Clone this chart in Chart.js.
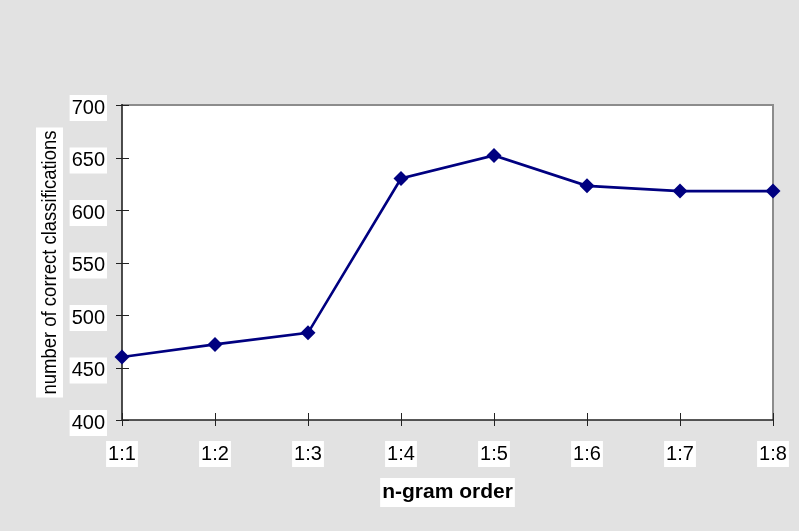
<!DOCTYPE html>
<html>
<head>
<meta charset="utf-8">
<script src="https://cdn.jsdelivr.net/npm/chart.js@4"></script>
<style>
  html, body { margin: 0; padding: 0; background: #e2e2e2; }
  #wrap { width: 799px; height: 531px; }
</style>
</head>
<body>
<div id="wrap"><canvas id="c" width="799" height="531"></canvas></div>
<script>
// n-gram order vs. number of correct classifications
const categories = ['1:1', '1:2', '1:3', '1:4', '1:5', '1:6', '1:7', '1:8'];
const correctClassifications = [460, 472, 483, 630, 652, 623, 618, 618];
const yTicks = [400, 450, 500, 550, 600, 650, 700];
const xTitle = 'n-gram order';
const yTitle = 'number of correct classifications';

const PAGE_BG = '#e2e2e2';
const LINE = '#000080';
const AXIS = '#222222';
const FRAME = '#8c8c8c';

// Plot-area fill, frame, crossing tick marks and white-boxed axis titles
const framePlugin = {
  id: 'frame',
  beforeDraw(chart) {
    const { ctx, chartArea: a } = chart;
    ctx.save();
    ctx.fillStyle = PAGE_BG;
    ctx.fillRect(0, 0, chart.width, chart.height);
    ctx.fillStyle = '#ffffff';
    ctx.fillRect(a.left, a.top, a.right - a.left, a.bottom - a.top);
    ctx.restore();
  },
  beforeDatasetsDraw(chart) {
    const { ctx, chartArea: a, scales } = chart;
    ctx.save();
    // top and right edges in gray
    ctx.strokeStyle = FRAME;
    ctx.lineWidth = 2;
    ctx.beginPath();
    ctx.moveTo(a.left, a.top);
    ctx.lineTo(a.right, a.top);
    ctx.lineTo(a.right, a.bottom);
    ctx.stroke();
    // value and category axes
    ctx.strokeStyle = AXIS;
    ctx.lineWidth = 1.6;
    ctx.beginPath();
    ctx.moveTo(a.left, a.top - 1);
    ctx.lineTo(a.left, a.bottom);
    ctx.lineTo(a.right, a.bottom);
    ctx.stroke();
    // tick marks crossing the axes
    ctx.lineWidth = 1;
    ctx.beginPath();
    yTicks.forEach(v => {
      const y = Math.round(scales.y.getPixelForValue(v)) + 0.5;
      ctx.moveTo(a.left - 6, y);
      ctx.lineTo(a.left + 7, y);
    });
    categories.forEach((c, i) => {
      const x = Math.round(scales.x.getPixelForValue(i)) + 0.5;
      ctx.moveTo(x, a.bottom - 7);
      ctx.lineTo(x, a.bottom + 6);
    });
    ctx.stroke();
    ctx.restore();
  },
  afterDraw(chart) {
    const { ctx, chartArea: a } = chart;
    ctx.save();
    // category axis title
    ctx.font = 'bold 21px "Liberation Sans", Arial, sans-serif';
    ctx.textAlign = 'center';
    ctx.textBaseline = 'middle';
    const cx = (a.left + a.right) / 2;
    const w = ctx.measureText(xTitle).width;
    ctx.fillStyle = '#ffffff';
    ctx.fillRect(cx - w / 2 - 2, 478, w + 4, 29);
    ctx.fillStyle = '#000000';
    ctx.fillText(xTitle, cx, 492);

    // value axis title, rotated and condensed
    const cy = (a.top + a.bottom) / 2;
    const boxLen = 270;
    ctx.translate(49.5, cy);
    ctx.rotate(-Math.PI / 2);
    ctx.fillStyle = '#ffffff';
    ctx.fillRect(-boxLen / 2, -13.5, boxLen, 27);
    ctx.font = '21px "Liberation Sans Narrow", "Liberation Sans", Arial, sans-serif';
    const tw = ctx.measureText(yTitle).width;
    const sx = 264 / tw;
    ctx.scale(sx, 1);
    ctx.fillStyle = '#000000';
    ctx.fillText(yTitle, 0, 1);
    ctx.restore();
  }
};

new Chart(document.getElementById('c'), {
  type: 'line',
  data: {
    labels: categories,
    datasets: [{
      data: correctClassifications,
      borderColor: LINE,
      borderWidth: 2.6,
      backgroundColor: LINE,
      pointStyle: 'rectRot',
      pointRadius: 7.5,
      pointHoverRadius: 7.5,
      pointBackgroundColor: LINE,
      pointBorderWidth: 0,
      tension: 0,
      clip: false,
      fill: false
    }]
  },
  options: {
    responsive: false,
    animation: false,
    devicePixelRatio: 1,
    layout: { padding: { top: 105, right: 26, left: 0, bottom: 0 } },
    plugins: {
      legend: { display: false },
      tooltip: { enabled: false },
      title: { display: false }
    },
    scales: {
      x: {
        type: 'category',
        offset: false,
        grid: { display: false, offset: false, drawTicks: false },
        border: { display: false },
        ticks: {
          color: '#000000',
          font: { family: '"Liberation Sans", Arial, sans-serif', size: 20 },
          padding: 22,
          maxRotation: 0,
          autoSkip: false,
          showLabelBackdrop: true,
          backdropColor: '#ffffff',
          backdropPadding: { x: 2, y: 1 }
        },
        afterFit(s) { s.height = 111; s.paddingLeft = 0; s.paddingRight = 0; }
      },
      y: {
        min: 400,
        max: 700,
        afterBuildTicks(s) { s.ticks = yTicks.map(v => ({ value: v })); },
        grid: { display: false, drawTicks: false },
        border: { display: false },
        ticks: {
          color: '#000000',
          font: { family: '"Liberation Sans", Arial, sans-serif', size: 20 },
          padding: 17,
          labelOffset: 3,
          showLabelBackdrop: true,
          backdropColor: '#ffffff',
          backdropPadding: { x: 2, y: 1 }
        },
        afterFit(s) { s.width = 122; s.paddingTop = 0; s.paddingBottom = 0; }
      }
    }
  },
  plugins: [framePlugin]
});
</script>
</body>
</html>
